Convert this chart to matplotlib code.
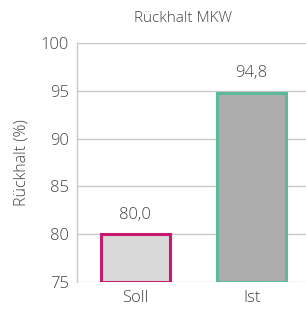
import matplotlib
matplotlib.use("Agg")
import matplotlib.pyplot as plt

categories = ["Soll", "Ist"]
values = [80.0, 94.8]
value_labels = ["80,0", "94,8"]
y_ticks = [75, 80, 85, 90, 95, 100]

fill_colors = ["#d9d9d9", "#adadad"]
edge_colors = ["#c8196e", "#5bb89d"]
text_color = "#444444"
grid_color = "#c8c8c8"

plt.rcParams["font.family"] = ["Open Sans", "DejaVu Sans"]
plt.rcParams["font.weight"] = "light"

fig = plt.figure(figsize=(3.06, 3.09), dpi=100)
ax = fig.add_axes([0.2516, 0.0874, 0.761, 0.7734])

x = range(len(categories))
ax.bar(x, [v - 75 for v in values], bottom=75, width=0.59,
       color=fill_colors, edgecolor=edge_colors, linewidth=2.2, zorder=3)
for xi, v, lab in zip(x, values, value_labels):
    ax.text(xi, v + 1.2, lab, ha="center", va="bottom", fontsize=12,
            color=text_color)

ax.set_xlim(-0.5, 1.5)
ax.set_ylim(75, 100)
ax.set_yticks(y_ticks)
ax.set_xticks(list(x))
ax.set_xticklabels(categories)
ax.tick_params(length=0, labelsize=12, colors=text_color, pad=6)
ax.grid(axis="y", color=grid_color, linewidth=1.0, zorder=0)
for side in ["top", "right", "bottom"]:
    ax.spines[side].set_visible(False)
ax.spines["left"].set_color(grid_color)
ax.spines["left"].set_linewidth(1.0)

ax.set_ylabel("Rückhalt (%)", fontsize=11.5, color=text_color, labelpad=8,
              fontweight="light")
fig.text(183 / 306, 1 - 18 / 309, "Rückhalt MKW", ha="center", va="center",
         fontsize=11, color=text_color)

fig.savefig("out.png", dpi=100)
